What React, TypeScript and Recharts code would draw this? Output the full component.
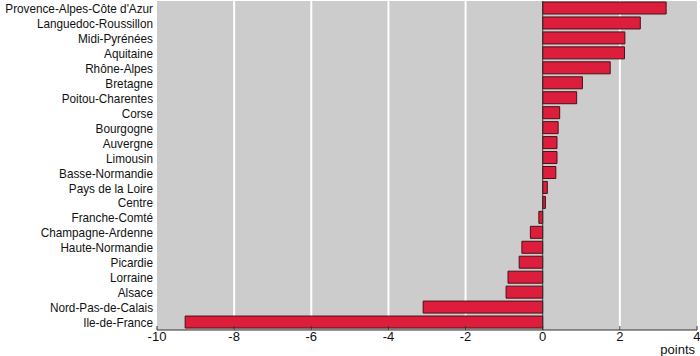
import { BarChart, Bar, XAxis, YAxis, CartesianGrid, ReferenceLine } from 'recharts';

// régions, de haut en bas
const regions = [
  'Provence-Alpes-Côte d\'Azur',
  'Languedoc-Roussillon',
  'Midi-Pyrénées',
  'Aquitaine',
  'Rhône-Alpes',
  'Bretagne',
  'Poitou-Charentes',
  'Corse',
  'Bourgogne',
  'Auvergne',
  'Limousin',
  'Basse-Normandie',
  'Pays de la Loire',
  'Centre',
  'Franche-Comté',
  'Champagne-Ardenne',
  'Haute-Normandie',
  'Picardie',
  'Lorraine',
  'Alsace',
  'Nord-Pas-de-Calais',
  'Ile-de-France',
];

const values = [
  3.2, 2.53, 2.13, 2.12, 1.75, 1.03, 0.88, 0.44, 0.4, 0.37, 0.37,
  0.34, 0.12, 0.07, -0.1, -0.32, -0.54, -0.61, -0.9, -0.95, -3.1, -9.27,
];

const xTicks = [-10, -8, -6, -4, -2, 0, 2, 4];

const data = regions.map((region, i) => ({ region, value: values[i] }));

const font = '"Liberation Sans", Arial, sans-serif';

// plain text tick, squeezed a little to look like a condensed face
const RegionTick = (props: any) => {
  const { x, y, payload } = props;
  return (
    <g transform={`translate(${x},${y}) scale(0.87,1)`}>
      <text x={0} y={0} dy="0.34em" textAnchor="end" fill="#111111" fontSize={13.5} fontFamily={font}>
        {payload.value}
      </text>
    </g>
  );
};

export default function App() {
  return (
    <div style={{ position: 'absolute', left: 0, top: 0, fontFamily: font }}>
      <BarChart
        width={700}
        height={356}
        data={data}
        layout="vertical"
        margin={{ top: 1, right: 3, left: 0, bottom: 0 }}
      >
        <CartesianGrid
          horizontal={false}
          vertical={true}
          fill="#cccccc"
          fillOpacity={1}
          stroke="#ffffff"
          strokeWidth={2}
          verticalValues={[-8, -6, -4, -2, 2]}
        />
        <XAxis
          type="number"
          domain={[-10, 4]}
          ticks={xTicks}
          height={26}
          tickSize={-4}
          tickMargin={6}
          stroke="#333333"
          tick={{ fill: '#111111', fontSize: 13, fontFamily: font }}
          label={{
            value: 'points',
            position: 'insideBottomRight',
            offset: 2,
            fill: '#111111',
            fontSize: 13,
            fontFamily: font,
          }}
        />
        <YAxis
          type="category"
          dataKey="region"
          width={157}
          axisLine={false}
          tickLine={false}
          tickSize={0}
          tickMargin={4}
          interval={0}
          tick={<RegionTick />}
        />
        <ReferenceLine x={0} stroke="#333333" strokeWidth={1} />
        <Bar
          dataKey="value"
          fill="#dc1e3c"
          stroke="#4a1018"
          strokeWidth={1}
          barSize={12}
          isAnimationActive={false}
        />
      </BarChart>
    </div>
  );
}
